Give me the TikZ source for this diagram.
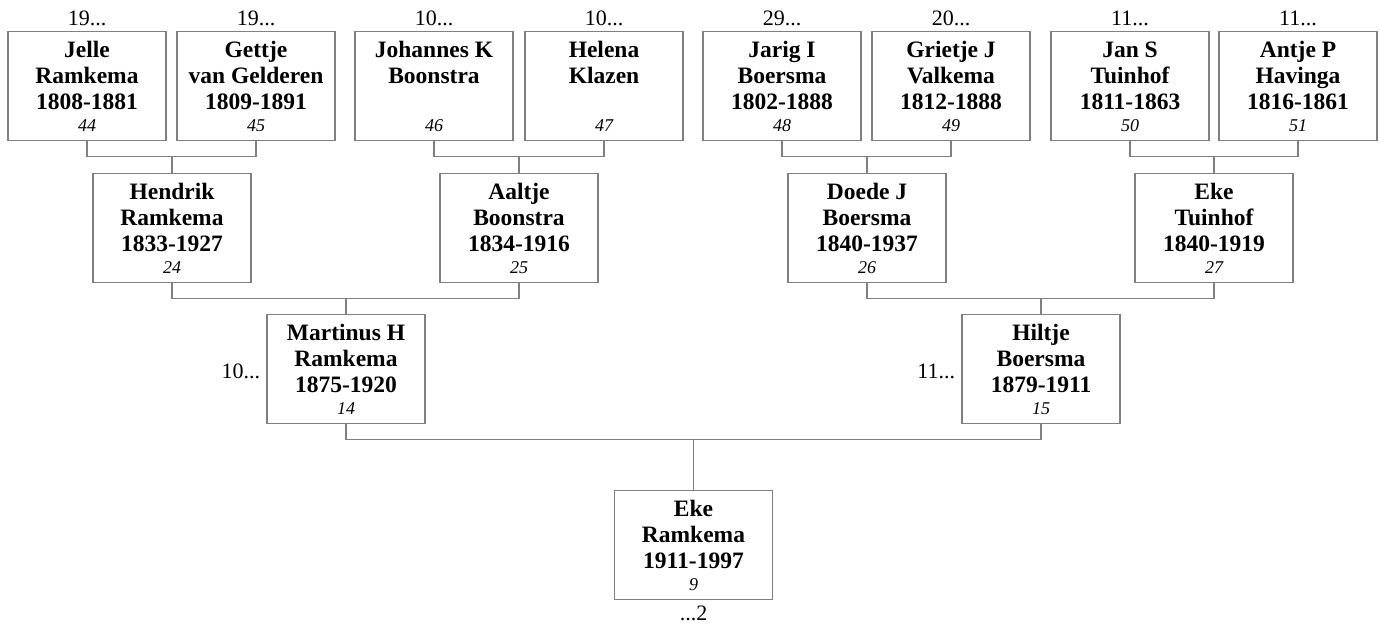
\documentclass[tikz,border=0pt]{standalone}
\usepackage{fontspec}
\setmainfont{Liberation Serif}
\usetikzlibrary{calc,positioning}
\definecolor{linegray}{RGB}{128,128,128}
\newcommand{\pnum}[1]{\\[-4pt]{\fontsize{18}{22}\selectfont\mdseries\itshape #1}}

\begin{document}
\begin{tikzpicture}[
  x=1pt, y=-1pt,
  person/.style={draw=linegray, line width=1.5pt, minimum width=158pt, minimum height=109pt,
                 inner sep=0pt, align=center, font=\fontsize{23.5}{26}\selectfont\bfseries,
                 text height=91pt, text depth=0pt},
  link/.style={draw=linegray, line width=1.5pt},
  gen/.style={font=\fontsize{22}{24}\selectfont, inner sep=0pt},
]
\useasboundingbox (0,0) rectangle (1380,625);

%% ═══ GREAT-GRANDPARENTS ═══════════════════════════════════════════════
\node[person] (jelle)    at (87,  86) {Jelle\\Ramkema\\1808-1881\pnum{44}};
\node[person] (gettje)   at (256, 86) {Gettje\\van Gelderen\\1809-1891\pnum{45}};
\node[person] (johannes) at (434, 86) {Johannes K\\Boonstra\\~\pnum{46}};
\node[person] (helena)   at (604, 86) {Helena\\Klazen\\~\pnum{47}};
\node[person] (jarig)    at (782, 86) {Jarig I\\Boersma\\1802-1888\pnum{48}};
\node[person] (grietje)  at (951, 86) {Grietje J\\Valkema\\1812-1888\pnum{49}};
\node[person] (jan)      at (1130,86) {Jan S\\Tuinhof\\1811-1863\pnum{50}};
\node[person] (antje)    at (1298,86) {Antje P\\Havinga\\1816-1861\pnum{51}};

% generation counts above the top row
\node[gen, anchor=base] (g44) at ([yshift=5pt]jelle.north)    {19...};
\node[gen, anchor=base] (g45) at ([yshift=5pt]gettje.north)   {19...};
\node[gen, anchor=base] (g46) at ([yshift=5pt]johannes.north) {10...};
\node[gen, anchor=base] (g47) at ([yshift=5pt]helena.north)   {10...};
\node[gen, anchor=base] (g48) at ([yshift=5pt]jarig.north)    {29...};
\node[gen, anchor=base] (g49) at ([yshift=5pt]grietje.north)  {20...};
\node[gen, anchor=base] (g50) at ([yshift=5pt]jan.north)      {11...};
\node[gen, anchor=base] (g51) at ([yshift=5pt]antje.north)    {11...};

%% ═══ GRANDPARENTS ═════════════════════════════════════════════════════
\node[person] (hendrik) at (172, 228) {Hendrik\\Ramkema\\1833-1927\pnum{24}};
\node[person] (aaltje)  at (519, 228) {Aaltje\\Boonstra\\1834-1916\pnum{25}};
\node[person] (doede)   at (867, 228) {Doede J\\Boersma\\1840-1937\pnum{26}};
\node[person] (eket)    at (1214,228) {Eke\\Tuinhof\\1840-1919\pnum{27}};

%% ═══ PARENTS ══════════════════════════════════════════════════════════
\node[person] (martinus) at (346, 369) {Martinus H\\Ramkema\\1875-1920\pnum{14}};
\node[person] (hiltje)   at (1041,369) {Hiltje\\Boersma\\1879-1911\pnum{15}};
\node[gen, anchor=east] (g14) at ([xshift=-6pt,yshift=-2pt]martinus.west) {10...};
\node[gen, anchor=east] (g15) at ([xshift=-6pt,yshift=-2pt]hiltje.west)   {11...};

%% ═══ ROOT ═════════════════════════════════════════════════════════════
\node[person] (eke) at (693.5, 545) {Eke\\Ramkema\\1911-1997\pnum{9}};
\node[gen, anchor=base] (g9) at ([yshift=-20pt]eke.south) {...2};

% junction points of each couple
\coordinate (j24) at ([yshift=-15pt]hendrik.north |- jelle.south);
\coordinate (j25) at ([yshift=-15pt]aaltje.north |- johannes.south);
\coordinate (j26) at ([yshift=-15pt]doede.north |- jarig.south);
\coordinate (j27) at ([yshift=-15pt]eket.north |- jan.south);
\coordinate (j14) at ([yshift=-15pt]martinus.north |- hendrik.south);
\coordinate (j15) at ([yshift=-15pt]hiltje.north |- doede.south);
\coordinate (j9)  at ([yshift=-15pt]eke.north |- martinus.south);

% couple brackets
\draw[link] (jelle.south)    |- (j24) -| (gettje.south);
\draw[link] (johannes.south) |- (j25) -| (helena.south);
\draw[link] (jarig.south)    |- (j26) -| (grietje.south);
\draw[link] (jan.south)      |- (j27) -| (antje.south);
\draw[link] (hendrik.south)  |- (j14) -| (aaltje.south);
\draw[link] (doede.south)    |- (j15) -| (eket.south);
\draw[link] (martinus.south) |- (j9)  -| (hiltje.south);

% down to the child
\draw[link] (j24) -- (hendrik.north);
\draw[link] (j25) -- (aaltje.north);
\draw[link] (j26) -- (doede.north);
\draw[link] (j27) -- (eket.north);
\draw[link] (j14) -- (martinus.north);
\draw[link] (j15) -- (hiltje.north);
\draw[link] (j9)  -- (eke.north);

\end{tikzpicture}
\end{document}
